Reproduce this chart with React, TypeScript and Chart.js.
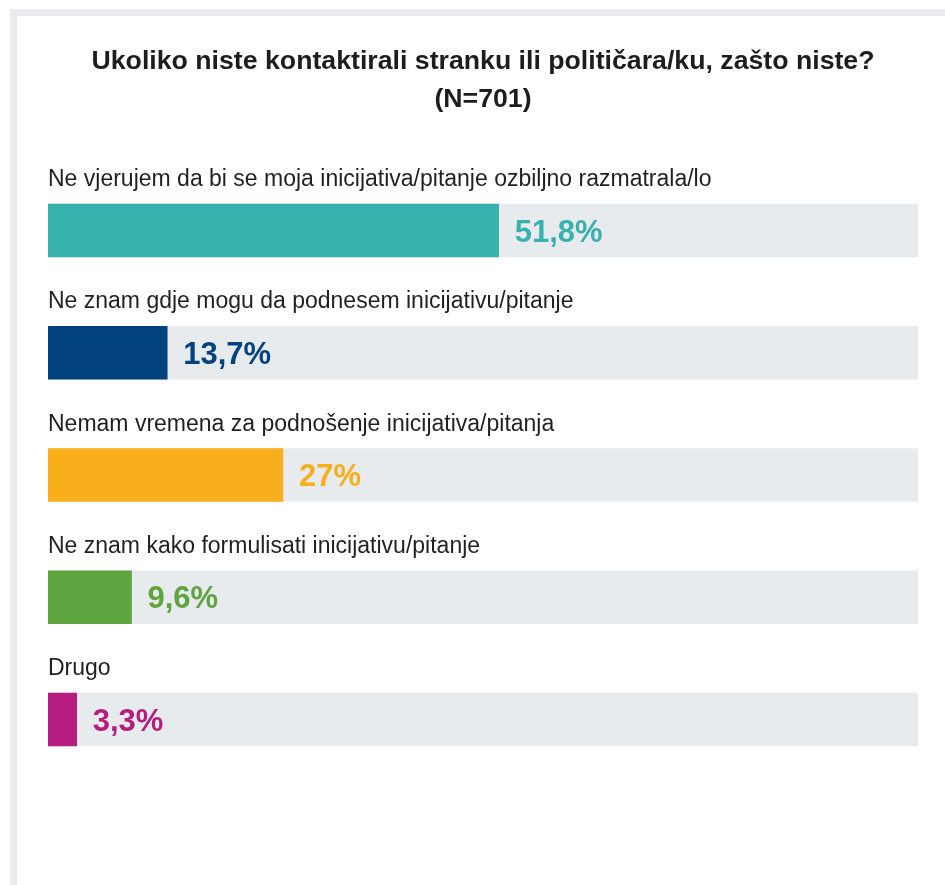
import React, { useEffect, useRef } from "react";
import { Chart, registerables } from "chart.js";

Chart.register(...registerables);

const titleLines = [
  "Ukoliko niste kontaktirali stranku ili političara/ku, zašto niste?",
  "(N=701)",
];
const categories = [
  "Ne vjerujem da bi se moja inicijativa/pitanje ozbiljno razmatrala/lo",
  "Ne znam gdje mogu da podnesem inicijativu/pitanje",
  "Nemam vremena za podnošenje inicijativa/pitanja",
  "Ne znam kako formulisati inicijativu/pitanje",
  "Drugo",
];
const values = [51.8, 13.7, 27, 9.6, 3.3];
const valueLabels = ["51,8%", "13,7%", "27%", "9,6%", "3,3%"];
const trackValues = [100, 100, 100, 100, 100];
const colors = ["#38b2af", "#02437f", "#f9ae1b", "#5ea43f", "#b71d80"];

const FONT = "'Liberation Sans', Arial, Helvetica, sans-serif";

const labelPlugin = {
  id: "labelPlugin",
  afterDatasetsDraw(chart: any) {
    const ctx = chart.ctx;
    const xs = chart.scales.x;
    const ys = chart.scales.y;
    ctx.save();
    categories.forEach((cat, i) => {
      const yc = ys.getPixelForValue(i);
      const barTop = yc - 26.5;
      ctx.font = `23px ${FONT}`;
      ctx.fillStyle = "#231f20";
      ctx.textAlign = "left";
      ctx.textBaseline = "alphabetic";
      ctx.fillText(cat, chart.chartArea.left, barTop - 18);
      ctx.font = `bold 31px ${FONT}`;
      ctx.fillStyle = colors[i];
      const xEnd = xs.getPixelForValue(values[i]);
      ctx.fillText(valueLabels[i], xEnd + 16, yc + 0.358 * 31);
    });
    ctx.restore();
  },
};

export default function App() {
  const ref = useRef<HTMLCanvasElement | null>(null);
  useEffect(() => {
    if (!ref.current) return;
    const chart = new Chart(ref.current, {
      type: "bar",
      data: {
        labels: categories,
        datasets: [
          {
            data: values,
            backgroundColor: colors,
            borderWidth: 0,
            barThickness: 53,
            grouped: false,
            order: 1,
          } as any,
          {
            data: trackValues,
            backgroundColor: "#e8ebee",
            borderWidth: 0,
            barThickness: 53,
            grouped: false,
            order: 2,
          } as any,
        ],
      },
      options: {
        indexAxis: "y",
        animation: false,
        responsive: false,
        maintainAspectRatio: false,
        layout: { padding: { left: 48, right: 27, top: 0, bottom: 104.4 } },
        scales: {
          x: { display: false, min: 0, max: 100 },
          y: { display: false, offset: true },
        },
        plugins: {
          legend: { display: false },
          tooltip: { enabled: false },
          title: {
            display: true,
            text: titleLines,
            color: "#1d1d1b",
            font: { family: FONT, size: 26.7, weight: "bold", lineHeight: 38 / 26.7 },
            padding: { top: 42.5, bottom: 50.9 },
          },
        },
      } as any,
      plugins: [labelPlugin],
    });
    return () => chart.destroy();
  }, []);

  return (
    <div
      style={{
        position: "absolute",
        left: 0,
        top: 0,
        width: 945,
        height: 885,
        background: "#ffffff",
        overflow: "hidden",
      }}
    >
      <div
        style={{
          position: "absolute",
          left: 10,
          top: 9,
          right: 0,
          bottom: 0,
          borderTop: "7px solid #e8ecef",
          borderLeft: "7px solid #e8ecef",
        }}
      />
      <canvas
        ref={ref}
        width={945}
        height={885}
        style={{ position: "absolute", left: 0, top: 0, width: 945, height: 885 }}
      />
    </div>
  );
}
